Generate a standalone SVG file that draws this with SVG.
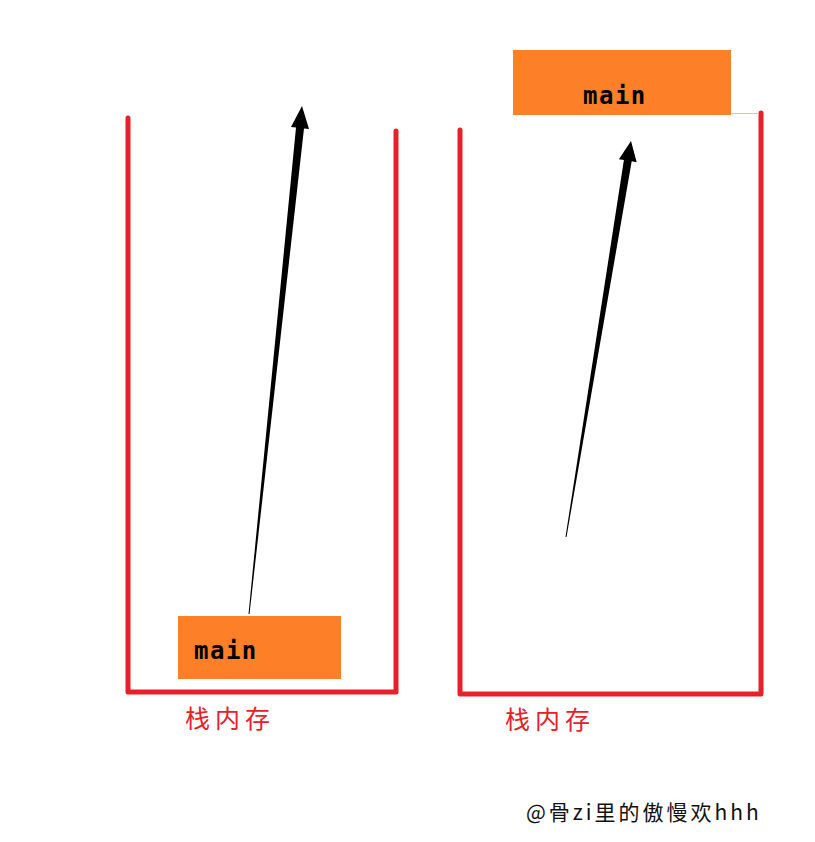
<svg xmlns="http://www.w3.org/2000/svg" width="815" height="842" viewBox="0 0 815 842">
<style>
.stack{fill:none;stroke:#e8202a;stroke-width:5;stroke-linejoin:round;stroke-linecap:round}
.box{fill:#fd7f28}
.lbl{font-family:"DejaVu Sans Mono","Liberation Mono",monospace;font-size:24px;font-weight:bold;letter-spacing:1.5px;fill:#000}
.cn{font-family:"Noto Sans CJK SC",sans-serif;font-size:25px;fill:#e8202a;letter-spacing:5px}
.wm{font-family:"Noto Sans CJK SC",sans-serif;font-size:21px;fill:#111;letter-spacing:3px}
.arr{fill:#000}
</style>
<g id="stack-left">
<path class="stack" d="M128,118 L128,692 L396,692 L396,131"/>
<text class="cn" x="185" y="728">栈内存</text>
</g>
<g id="stack-right">
<path class="stack" d="M460,130 L460,694 L761,694 L761,113"/>
<line x1="731" y1="113.5" x2="759" y2="113.5" stroke="#f4b8b8" stroke-width="1"/>
<text class="cn" x="505" y="729">栈内存</text>
</g>
<g id="main-left">
<rect class="box" x="178" y="616" width="163" height="63"/>
<text class="lbl" x="194" y="659">main</text>
</g>
<g id="main-right">
<rect class="box" x="513" y="50" width="218" height="65"/>
<text class="lbl" x="583" y="104">main</text>
</g>
<g id="connectors">
<polygon class="arr" points="248.5,614 249.5,614 304,128.4 309,129 302,106 291,127 296,127.6"/>
<polygon class="arr" points="565.5,537 566.5,537 631.7,161.3 636.7,162.2 631,141 618.9,159.2 623.9,160"/>
</g>
<text class="wm" x="526" y="820">@骨zi里的傲慢欢hhh</text>
</svg>
